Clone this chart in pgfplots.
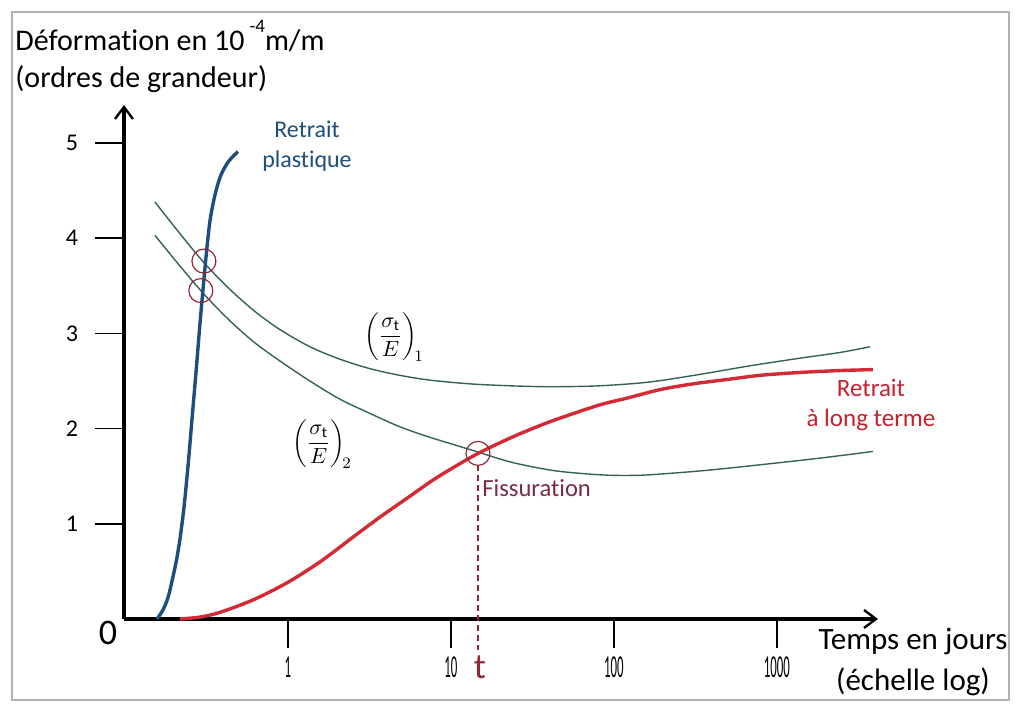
\documentclass[border=0pt]{standalone}
\usepackage{fontspec}
\setmainfont{Carlito}[Ligatures=NoCommon]
\usepackage{graphicx}
\usepackage{pgfplots}
\pgfplotsset{compat=1.18}
\usetikzlibrary{arrows.meta}

\definecolor{navy}{HTML}{1D4E7E}
\definecolor{rouge}{HTML}{D42A35}
\definecolor{vert}{HTML}{35615A}
\definecolor{bordeaux}{HTML}{8E2A35}
\definecolor{fiss}{HTML}{7B2B3F}
\definecolor{rtext}{HTML}{C8202E}

% pixel of the reference -> picture coordinate (1 px = 0.5 pt, origin at the axes' corner)
\newcommand{\px}[2]{({(#1-124)*0.5pt},{(619-#2)*0.5pt})}
\newcommand{\xl}[1]{\scalebox{0.4}[1]{#1}}

\begin{document}
\begin{tikzpicture}
\useasboundingbox \px{0}{712} rectangle \px{1024}{0};
\draw[gray!60, line width=0.8pt] \px{12}{12} rectangle \px{1009}{700};

\begin{axis}[
    at={(0,0)}, anchor=south west,
    scale only axis, width=377pt, height=257pt,
    xmode=log, xmin=0.0986, xmax=4169,
    ymin=0, ymax=5.4,
    axis lines=left,
    axis line style={line width=1.7pt, -{Straight Barb[length=6pt,width=9pt,line width=1.2pt]}},
    xtick={1,10,100,1000},
    xticklabels={\xl{1},\xl{10},\xl{100},\xl{1000}},
    xminorticks=false,
    ytick={1,2,3,4,5},
    tick align=outside,
    major tick length=14.5pt,
    tick style={black, line width=0.8pt},
    xticklabel style={font=\fontsize{16}{16}\selectfont, yshift=-1pt},
    yticklabel style={font=\fontsize{12}{12}\selectfont, xshift=-5pt},
    /pgf/number format/assume math mode=true,
    clip=false,
]
% (sigma_t/E)_1
\addplot[vert, line width=0.7pt, smooth] coordinates {
(0.1528,4.38) (0.217,4.05) (0.310,3.73) (0.442,3.46) (0.628,3.23)
(0.894,3.04) (1.364,2.86) (2.08,2.73) (3.18,2.63) (4.85,2.56)
(7.39,2.51) (13.1,2.47) (23.1,2.45) (40.7,2.44) (82.0,2.45)
(166,2.49) (337,2.57) (683,2.66) (1384,2.74) (2436,2.80) (3724,2.86)};
% (sigma_t/E)_2
\addplot[vert, line width=0.7pt, smooth] coordinates {
(0.1528,4.03) (0.217,3.71) (0.310,3.40) (0.442,3.13) (0.628,2.90)
(0.894,2.71) (1.364,2.50) (2.08,2.31) (3.18,2.16) (4.85,2.02)
(7.39,1.91) (13.1,1.78) (23.1,1.65) (40.5,1.565) (61.9,1.53)
(94.5,1.51) (144.4,1.51) (220.6,1.53) (388,1.565) (787,1.62)
(1836,1.69) (3882,1.76)};
% retrait plastique
\addplot[navy, line width=1.7pt, smooth] coordinates {
(0.157,0) (0.171,0.095) (0.184,0.23) (0.195,0.41) (0.206,0.60)
(0.217,0.83) (0.230,1.17) (0.244,1.62) (0.258,2.11) (0.273,2.60)
(0.288,3.09) (0.301,3.46) (0.314,3.80) (0.332,4.18) (0.356,4.45)
(0.387,4.66) (0.433,4.81) (0.493,4.91)};
% retrait a long terme
\addplot[rouge, line width=1.7pt, smooth] coordinates {
(0.2173,0) (0.288,0.02) (0.383,0.07) (0.610,0.20) (0.986,0.38)
(1.572,0.60) (2.506,0.86) (3.666,1.07) (5.60,1.29) (7.76,1.46)
(11.04,1.62) (15.07,1.75) (23.0,1.90) (33.73,2.02) (46.6,2.11)
(82.0,2.25) (120.2,2.32) (192,2.41) (305,2.47) (515,2.52)
(787,2.56) (1381,2.59) (2424,2.61) (3882,2.62)};
% fissuration
\addplot[bordeaux, densely dashed, line width=0.6pt] coordinates {(14.65,1.62) (14.65,-0.33)};
\addplot[only marks, mark=o, mark size=6pt, mark options={bordeaux, line width=0.6pt}]
  coordinates {(0.305,3.76) (0.292,3.45) (14.65,1.74)};
\end{axis}

\node[inner sep=0pt, anchor=base west, font=\fontsize{15}{18}\selectfont] at \px{15}{51}
  {Déformation en 10\,\raisebox{1.3ex}{\fontsize{9.5}{9.5}\selectfont -4}m/m};
\node[inner sep=0pt, anchor=base west, font=\fontsize{15}{18}\selectfont] at \px{15}{88}
  {(ordres de grandeur)};
\node[font=\fontsize{18}{18}\selectfont] at \px{108}{633} {0};
\node[font=\fontsize{18}{18}\selectfont, text=bordeaux] at \px{480}{667} {t};
\node[align=center, font=\fontsize{15.5}{20.5}\selectfont] at \px{913}{662}
  {Temps en jours\\(échelle log)};
\node[align=center, text=navy, font=\fontsize{12}{15}\selectfont] at \px{307}{146}
  {Retrait\\plastique};
\node[align=center, text=rtext, font=\fontsize{12.5}{15}\selectfont] at \px{871}{405}
  {Retrait\\à long terme};
\node[inner sep=0pt, anchor=west, text=fiss, font=\fontsize{12.3}{14}\selectfont] at \px{482}{488}
  {Fissuration};
\node[font=\fontsize{11}{13}\selectfont] at \px{394}{337}
  {$\displaystyle\left(\frac{\sigma_{\mathrm{t}}}{E}\right)_{\!1}$};
\node[font=\fontsize{11}{13}\selectfont] at \px{322}{444}
  {$\displaystyle\left(\frac{\sigma_{\mathrm{t}}}{E}\right)_{\!2}$};
\end{tikzpicture}
\end{document}
